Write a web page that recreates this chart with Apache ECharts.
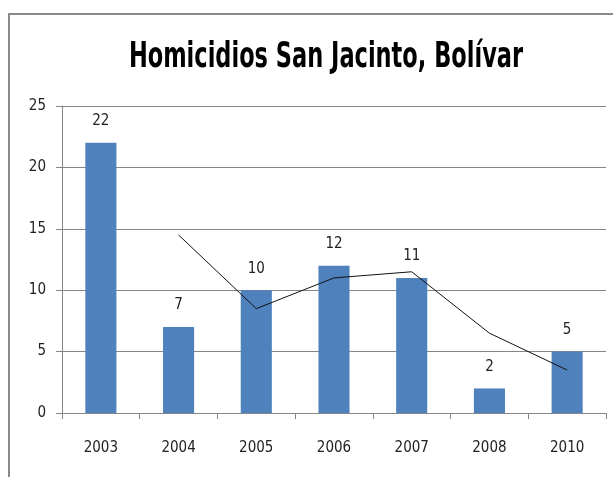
<!DOCTYPE html>
<html><head><meta charset="utf-8">
<script src="https://cdn.jsdelivr.net/npm/echarts@6/dist/echarts.min.js"></script>
<style>html,body{margin:0;padding:0;background:#fff;}#c{width:613px;height:477px;}</style>
</head><body><div id="c"></div>
<script>
const categories = ['2003','2004','2005','2006','2007','2008','2010'];
const homicidios = [22, 7, 10, 12, 11, 2, 5];
const tendencia = [null, 14.5, 8.5, 11, 11.5, 6.5, 3.5];
const yTicks = [0, 5, 10, 15, 20, 25];
const titleText = 'Homicidios San Jacinto, Bolívar';
const FONT = '"Liberation Sans Narrow", "DejaVu Sans Condensed", sans-serif';

const chart = echarts.init(document.getElementById('c'));
chart.setOption({
  animation: false,
  backgroundColor: '#fff',
  graphic: [{
    type: 'rect', z: -1,
    shape: {x: 9, y: 14, width: 700, height: 600},
    style: {fill: 'none', stroke: '#8a8a8a', lineWidth: 2}
  }, {
    type: 'text', x: 326, y: 58, scaleY: 1.42,
    style: {
      text: titleText, fill: '#000', textAlign: 'center', textVerticalAlign: 'middle',
      font: 'bold 25px "DejaVu Sans Condensed", sans-serif'
    }
  }],
  grid: {left: 62, right: 7, top: 106, bottom: 64},
  xAxis: {
    type: 'category', data: categories,
    axisLine: {lineStyle: {color: '#868686'}},
    axisTick: {show: true, alignWithLabel: false, length: 6, lineStyle: {color: '#868686'}},
    axisLabel: {fontFamily: FONT, fontSize: 15, color: '#222', margin: 28}
  },
  yAxis: {
    type: 'value', min: yTicks[0], max: yTicks[yTicks.length-1], interval: 5,
    axisLine: {show: true, lineStyle: {color: '#868686'}},
    axisTick: {show: true, length: 6, lineStyle: {color: '#868686'}},
    splitLine: {lineStyle: {color: '#868686'}},
    axisLabel: {fontFamily: FONT, fontSize: 15, color: '#222', margin: 16}
  },
  series: [{
    type: 'bar', data: homicidios, barWidth: '40%',
    itemStyle: {color: '#4f81bd'},
    label: {show: true, position: 'top', distance: 14, fontFamily: FONT, fontSize: 15, color: '#222'}
  }, {
    type: 'line', data: tendencia, symbol: 'none',
    lineStyle: {color: '#111', width: 1}
  }]
});
</script></body></html>
